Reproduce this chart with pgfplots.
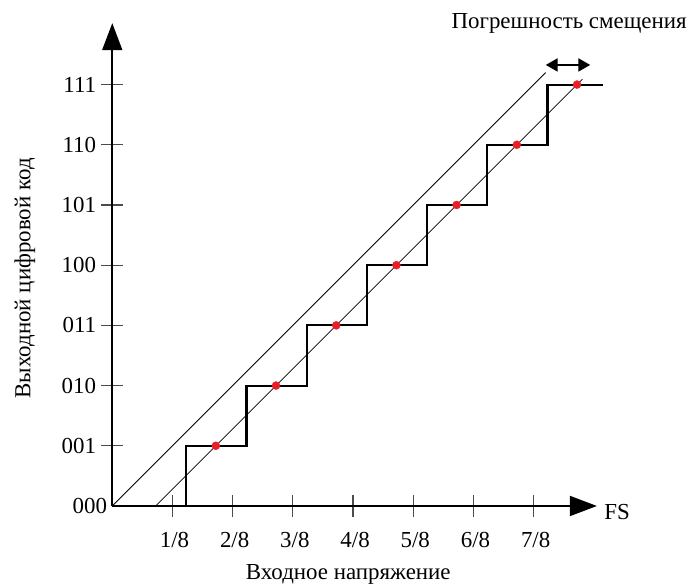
\documentclass[border=0pt]{standalone}
\usepackage{fontspec}
\setmainfont{Liberation Serif}
\usepackage{pgfplots}
\pgfplotsset{compat=1.18}
\usetikzlibrary{arrows.meta}
\definecolor{dotred}{RGB}{232,30,40}
\begin{document}
\begin{tikzpicture}[font=\fontsize{23}{27}\selectfont]
\begin{axis}[
  x=60.2bp, y=60.2bp,
  xmin=0, xmax=8.05, ymin=0, ymax=8.02,
  axis lines=left,
  axis line style={line width=1.7bp, -{Triangle[length=27bp,width=20bp]}},
  clip=false,
  xtick={1,...,7}, xticklabels={1/8,2/8,3/8,4/8,5/8,6/8,7/8},
  ytick={1,...,7}, yticklabels={001,010,011,100,101,110,111},
  extra y ticks={0}, extra y tick labels={000},
  extra y tick style={major tick length=0pt},
  tick align=center, major tick length=22bp,
  tick style={black!70, line width=1.2bp},
  tick label style={font=\fontsize{23}{27}\selectfont, inner sep=0pt},
  xticklabel style={anchor=north, yshift=-15bp, xshift=2bp},
  yticklabel style={anchor=east, xshift=-5bp},
]
% bounding box
\path (axis cs:-1.865,-1.362) rectangle (axis cs:9.58,8.405);
% ideal line
\addplot[black, line width=0.8bp] coordinates {(0,0) (7.2,7.2)};
% offset line
\addplot[black, line width=0.8bp] coordinates {(0.72,0) (7.81,7.09)};
% staircase
\addplot[black, line width=2.1bp] coordinates {
  (1.23,0) (1.23,1) (2.23,1) (2.23,2) (3.23,2) (3.23,3) (4.23,3) (4.23,4)
  (5.23,4) (5.23,5) (6.23,5) (6.23,6) (7.23,6) (7.23,7) (8.15,7)};
% red points
\addplot[only marks, mark=*, mark size=4bp, dotred, mark options={draw=dotred, fill=dotred}] coordinates {
  (1.72,1) (2.72,2) (3.72,3) (4.72,4) (5.72,5) (6.72,6) (7.72,7)};
% offset arrow
\draw[line width=2.2bp, {Triangle[length=12bp,width=13bp]}-{Triangle[length=12bp,width=13bp]}]
  (axis cs:7.2,7.326) -- (axis cs:7.94,7.326);
% texts
\node[anchor=base east, inner sep=0pt] at (axis cs:9.545,7.935) {Погрешность смещения};
\node[anchor=west, inner sep=0pt] at (axis cs:8.17,-0.108) {FS};
\node[inner sep=0pt] at (axis cs:3.92,-1.13) {Входное напряжение};
\node[inner sep=0pt, rotate=90] at (axis cs:-1.45,3.78) {Выходной цифровой код};
\end{axis}
\end{tikzpicture}
\end{document}
